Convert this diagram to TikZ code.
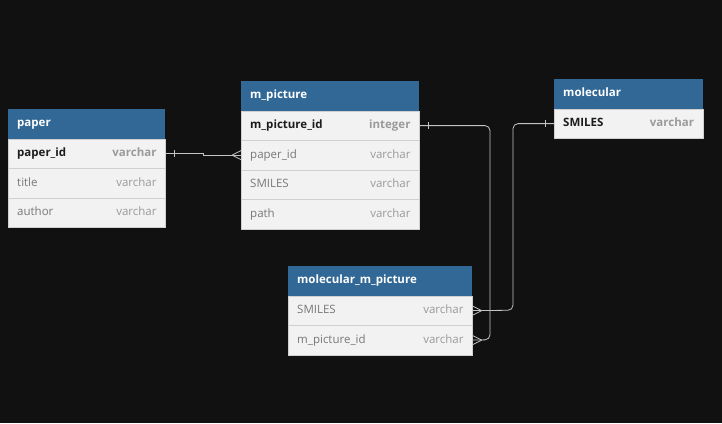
\documentclass[tikz,border=0pt]{standalone}
\usepackage{fontspec}
\setmainfont{Open Sans}
\usetikzlibrary{positioning,calc}

\definecolor{bgdark}{HTML}{111111}
\definecolor{hdblue}{HTML}{316896}
\definecolor{rowbg}{HTML}{F2F2F2}
\definecolor{rowline}{HTML}{D0D0D0}
\definecolor{wirec}{HTML}{C4C4C4}
\definecolor{keytxt}{HTML}{1C1C1C}
\definecolor{fldtxt}{HTML}{787878}
\definecolor{typetxt}{HTML}{9A9A9A}

\newcommand{\erfont}{\fontsize{11.5}{14}\selectfont}

\tikzset{
  hdr/.style={fill=hdblue, anchor=north west, inner sep=0pt, minimum height=29.5pt},
  row/.style={fill=rowbg, draw=rowline, line width=0.7pt, anchor=north west, inner sep=0pt, minimum height=29.5pt},
  txt/.style={inner sep=0pt, text height=8.6pt, text depth=2.6pt},
  hdtext/.style={txt, text=white, font=\erfont\bfseries},
  keyname/.style={txt, text=keytxt, font=\erfont\bfseries},
  keytype/.style={txt, text=typetxt, font=\erfont\bfseries},
  fname/.style={txt, text=fldtxt, font=\erfont},
  ftype/.style={txt, text=typetxt, font=\erfont},
  wire/.style={draw=wirec, line width=0.8pt},
}

\begin{document}
\begin{tikzpicture}[x=1pt, y=-1pt]
    % background
    \path[use as bounding box, fill=bgdark] (0,0) rectangle (722,423);

    % paper
    \node[hdr, minimum width=157pt] (paper) at (8,109) {};
    \node[hdtext, right=9pt of paper.west] (paper-t) {paper};
    \node[row, minimum width=157pt] (paper-id) at (8,138.5) {};
    \node[keyname, right=9pt of paper-id.west] (paper-id-n) {paper\_id};
    \node[keytype, left=9pt of paper-id.east] (paper-id-t) {varchar};
    \node[row, minimum width=157pt] (paper-title) at (8,168) {};
    \node[fname, right=9pt of paper-title.west] (paper-title-n) {title};
    \node[ftype, left=9pt of paper-title.east] (paper-title-t) {varchar};
    \node[row, minimum width=157pt] (paper-author) at (8,197.5) {};
    \node[fname, right=9pt of paper-author.west] (paper-author-n) {author};
    \node[ftype, left=9pt of paper-author.east] (paper-author-t) {varchar};

    % m_picture
    \node[hdr, minimum width=178pt] (mp) at (241,81) {};
    \node[hdtext, right=9pt of mp.west] (mp-t) {m\_picture};
    \node[row, minimum width=178pt] (mp-id) at (241,110.5) {};
    \node[keyname, right=9pt of mp-id.west] (mp-id-n) {m\_picture\_id};
    \node[keytype, left=9pt of mp-id.east] (mp-id-t) {integer};
    \node[row, minimum width=178pt] (mp-paper) at (241,140) {};
    \node[fname, right=9pt of mp-paper.west] (mp-paper-n) {paper\_id};
    \node[ftype, left=9pt of mp-paper.east] (mp-paper-t) {varchar};
    \node[row, minimum width=178pt] (mp-smiles) at (241,169.5) {};
    \node[fname, right=9pt of mp-smiles.west] (mp-smiles-n) {SMILES};
    \node[ftype, left=9pt of mp-smiles.east] (mp-smiles-t) {varchar};
    \node[row, minimum width=178pt] (mp-path) at (241,199) {};
    \node[fname, right=9pt of mp-path.west] (mp-path-n) {path};
    \node[ftype, left=9pt of mp-path.east] (mp-path-t) {varchar};

    % molecular
    \node[hdr, minimum width=148.5pt] (mol) at (554,79) {};
    \node[hdtext, right=9pt of mol.west] (mol-t) {molecular};
    \node[row, minimum width=148.5pt] (mol-smiles) at (554,108.5) {};
    \node[keyname, right=9pt of mol-smiles.west] (mol-smiles-n) {SMILES};
    \node[keytype, left=9pt of mol-smiles.east] (mol-smiles-t) {varchar};

    % molecular_m_picture
    \node[hdr, minimum width=184pt] (mmp) at (288,266) {};
    \node[hdtext, right=9pt of mmp.west] (mmp-t) {molecular\_m\_picture};
    \node[row, minimum width=184pt] (mmp-smiles) at (288,295.5) {};
    \node[fname, right=9pt of mmp-smiles.west] (mmp-smiles-n) {SMILES};
    \node[ftype, left=9pt of mmp-smiles.east] (mmp-smiles-t) {varchar};
    \node[row, minimum width=184pt] (mmp-pid) at (288,325) {};
    \node[fname, right=9pt of mmp-pid.west] (mmp-pid-n) {m\_picture\_id};
    \node[ftype, left=9pt of mmp-pid.east] (mmp-pid-t) {varchar};

    % paper -> m_picture
    \draw[wire] (paper-id.east) -- ++(38,0) |- (mp-paper.west);
    \draw[wire] ($(paper-id.east)+(9,-3.5)$) -- ++(0,7);
    \draw[wire] ($(mp-paper.west)+(-9,0)$) -- ++(9,-4.5)
                ($(mp-paper.west)+(-9,0)$) -- ++(9,4.5);

    % m_picture -> molecular_m_picture
    \coordinate (bend2) at (490,339.75);
    \draw[wire, rounded corners=5pt] (mp-id.east) -| (bend2) -- (mmp-pid.east);
    \draw[wire] ($(mp-id.east)+(9,-3.5)$) -- ++(0,7);
    \draw[wire] ($(mmp-pid.east)+(9,0)$) -- ++(-9,-4.5)
                ($(mmp-pid.east)+(9,0)$) -- ++(-9,4.5);

    % molecular -> molecular_m_picture
    \coordinate (bend3) at (513,310.25);
    \draw[wire, rounded corners=5pt] (mol-smiles.west) -| (bend3) -- (mmp-smiles.east);
    \draw[wire] ($(mol-smiles.west)+(-9,-3.5)$) -- ++(0,7);
    \draw[wire] ($(mmp-smiles.east)+(9,0)$) -- ++(-9,-4.5)
                ($(mmp-smiles.east)+(9,0)$) -- ++(-9,4.5);
\end{tikzpicture}
\end{document}
